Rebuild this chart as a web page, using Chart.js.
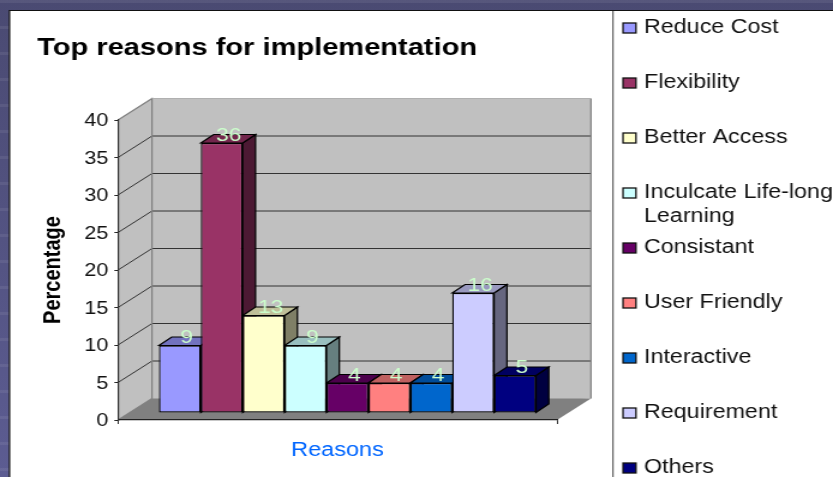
<!DOCTYPE html>
<html><head><meta charset="utf-8">
<script src="https://cdn.jsdelivr.net/npm/chart.js@4"></script>
<style>
html,body{margin:0;padding:0;width:833px;height:477px;overflow:hidden}
body{background:
 repeating-linear-gradient(180deg,rgba(255,255,255,.07) 0 3px,rgba(0,0,0,0) 3px 26px),
 linear-gradient(180deg,#4a4a72,#5c5c92)}
#wrap{position:absolute;left:0;top:0;width:694px;height:477px;transform-origin:0 0;transform:scaleX(1.2003)}
</style></head><body>
<div id="wrap"><canvas id="c" width="694" height="477" style="width:694px;height:477px"></canvas></div>
<script>
const categories = ["Reasons"];
const seriesNames = ["Reduce Cost","Flexibility","Better Access","Inculcate Life-long Learning","Consistant","User Friendly","Interactive","Requirement","Others"];
const seriesValues = [9,36,13,9,4,4,4,16,5];
const seriesColors = ["#9999ff","#993366","#ffffcc","#ccffff","#660066","#ff8080","#0066cc","#ccccff","#000080"];
const yTicks = [0,5,10,15,20,25,30,35,40];

const S = 833/694;
const FONT = '"Liberation Sans", Arial, sans-serif';
const wall = {dx:34/S, dy:-21.5};
const barShift = {dx:8.3, dy:-7};
const barDepth = {dx:10.7, dy:-8.5};

function shade(hex,f){
  const n=parseInt(hex.slice(1),16);
  return `rgb(${(n>>16&255)*f|0},${(n>>8&255)*f|0},${(n&255)*f|0})`;
}
function poly(ctx,pts,fill,stroke,lw){
  ctx.beginPath();pts.forEach((p,i)=>i?ctx.lineTo(p[0],p[1]):ctx.moveTo(p[0],p[1]));ctx.closePath();
  if(fill){ctx.fillStyle=fill;ctx.fill();}
  if(stroke){ctx.strokeStyle=stroke;ctx.lineWidth=lw||1;ctx.stroke();}
}
const scene = {
  id:'scene',
  beforeDraw(chart){
    const ctx=chart.ctx,a=chart.chartArea,y=chart.scales.y;
    const H=chart.height,W=chart.width;
    ctx.save();
    // slide panel
    ctx.fillStyle='#fff';ctx.fillRect(9.5/S,11,W,H);
    ctx.strokeStyle='#111';ctx.lineWidth=1.2;
    ctx.beginPath();ctx.moveTo(9.5/S,H);ctx.lineTo(9.5/S,10.5);ctx.lineTo(W,10.5);ctx.stroke();
    ctx.strokeStyle='#444';ctx.lineWidth=1;
    ctx.beginPath();ctx.moveTo(613/S,11);ctx.lineTo(613/S,H);ctx.stroke();
    // walls and floor
    const L=a.left,R=a.right,T=a.top,B=a.bottom,dx=wall.dx,dy=wall.dy;
    poly(ctx,[[L,B],[L+dx,B+dy],[L+dx,T+dy],[R+dx,T+dy],[R+dx,B+dy],[R+dx,B+dy]],'#c0c0c0');
    poly(ctx,[[L,T],[L+dx,T+dy],[L+dx,B+dy],[L,B]],'#c0c0c0');
    poly(ctx,[[L,B],[L+dx,B+dy],[R+dx,B+dy],[R,B]],'#808080');
    yTicks.forEach(v=>{
      if(v===0||v===40)return;
      const p=y.getPixelForValue(v);
      ctx.strokeStyle='#222';ctx.lineWidth=0.9;
      ctx.beginPath();ctx.moveTo(L,p);ctx.lineTo(L+dx,p+dy);ctx.lineTo(R+dx,p+dy);ctx.stroke();
    });
    ctx.strokeStyle='#808080';ctx.lineWidth=1.2;
    ctx.beginPath();ctx.moveTo(L,T);ctx.lineTo(L+dx,T+dy);ctx.lineTo(L+dx,B+dy);ctx.lineTo(L,B);
    ctx.moveTo(R+dx,T+dy);ctx.lineTo(R+dx,B+dy);ctx.stroke();
    ctx.strokeStyle='#b0b0b0';
    ctx.beginPath();ctx.moveTo(L+dx,T+dy);ctx.lineTo(R+dx,T+dy);ctx.stroke();
    // legend
    ctx.font='19.4px '+FONT;ctx.textBaseline='middle';ctx.textAlign='left';
    chart.data.datasets.forEach((d,i)=>{
      const yy=27+i*55;
      ctx.fillStyle=d.backgroundColor;ctx.strokeStyle='#111';ctx.lineWidth=1.3;
      ctx.fillRect(623/S,yy-4,10.8,10);ctx.strokeRect(623/S,yy-4,10.8,10);
      ctx.fillStyle='#111';
      const words=d.label.split(' ');let line='',row=0;
      words.forEach(w=>{
        const t=line?line+' '+w:w;
        if(ctx.measureText(t).width>W-644/S && line){ctx.fillText(line,644/S,yy+1+row*24);row++;line=w;}
        else line=t;
      });
      ctx.fillText(line,644/S,yy+1+row*24);
    });
    ctx.restore();
  },
  beforeDatasetsDraw(chart){
    const ctx=chart.ctx;
    ctx.save();
    ctx.translate(barShift.dx,barShift.dy);
    chart.data.datasets.forEach((d,i)=>{
      const e=chart.getDatasetMeta(i).data[0];
      const l=e.x-e.width/2,r=e.x+e.width/2,t=e.y,b=e.base,dx=barDepth.dx,dy=barDepth.dy;
      poly(ctx,[[r,t],[r+dx,t+dy],[r+dx,b+dy],[r,b]],shade(d.backgroundColor,.5),'#000',1.2);
      poly(ctx,[[l,t],[l+dx,t+dy],[r+dx,t+dy],[r,t]],shade(d.backgroundColor,.75),'#000',1.2);
    });
  },
  afterDatasetsDraw(chart){
    const ctx=chart.ctx;
    ctx.restore();
    ctx.save();
    ctx.font='19px '+FONT;ctx.fillStyle='#ccffcc';ctx.textAlign='center';ctx.textBaseline='middle';
    chart.data.datasets.forEach((d,i)=>{
      const e=chart.getDatasetMeta(i).data[0];
      ctx.fillText(String(d.data[0]),e.x+barShift.dx+5.8,e.y+barShift.dy-7.5);
    });
    ctx.restore();
  }
};
new Chart(document.getElementById('c'),{
  type:'bar',
  data:{labels:categories,datasets:seriesNames.map((n,i)=>({
    label:n,data:[seriesValues[i]],backgroundColor:seriesColors[i],
    borderColor:'#000',borderWidth:1.3,borderSkipped:false,clip:false,
    barPercentage:1,categoryPercentage:0.859}))},
  plugins:[scene],
  options:{
    responsive:false,animation:false,devicePixelRatio:1,
    layout:{padding:{left:31,right:230,top:34,bottom:0}},
    plugins:{
      legend:{display:false},tooltip:{enabled:false},
      title:{display:true,text:'Top reasons for implementation',align:'start',color:'#000',
        font:{family:FONT,size:24.2,weight:'bold',lineHeight:1.2},padding:{top:0,bottom:56.96}}
    },
    scales:{
      x:{afterFit(s){s.height=57;},
        grid:{drawOnChartArea:false,tickLength:4,color:'#333'},border:{color:'#222',width:1.2},
        ticks:{display:false},
        title:{display:true,text:'Reasons',color:'#0066ff',font:{family:FONT,size:19.6},padding:{top:0,bottom:15}}},
      y:{min:0,max:40,afterFit(s){s.width=67.3;},
        grid:{drawOnChartArea:false,tickLength:3,color:'#222'},border:{color:'#333',width:1.2},
        ticks:{stepSize:5,padding:5,labelOffset:1.5,color:'#111',font:{family:FONT,size:18}},
        title:{display:true,text:'Percentage',color:'#000',font:{family:FONT,size:20,weight:'bold'},padding:{top:1,bottom:0}}}
    }
  }
});
</script>
</body></html>
